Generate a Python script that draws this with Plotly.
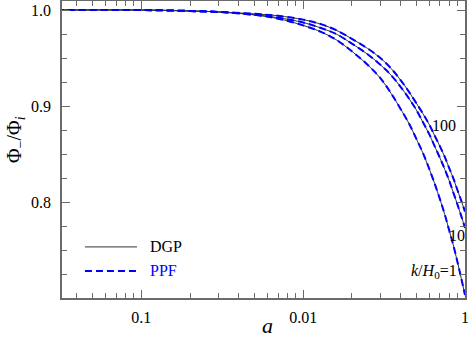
import plotly.graph_objects as go

# scale factor a
a_vals = [0.003, 0.01, 0.02, 0.03, 0.05, 0.07, 0.1, 0.13, 0.16, 0.2, 0.25, 0.3, 0.35, 0.4,
          0.45, 0.5, 0.55, 0.6, 0.65, 0.7, 0.75, 0.8, 0.85, 0.9, 0.95, 1.0]

# Phi_-/Phi_i for DGP (solid)
dgp_k1 = [1.0, 1.0, 0.999, 0.998, 0.995, 0.991, 0.984, 0.977, 0.969, 0.957, 0.943, 0.929, 0.913, 0.897,
          0.882, 0.866, 0.851, 0.835, 0.819, 0.803, 0.787, 0.770, 0.754, 0.737, 0.720, 0.703]
dgp_k10 = [1.0, 1.0, 0.999, 0.998, 0.995, 0.992, 0.987, 0.981, 0.975, 0.965, 0.954, 0.943, 0.932, 0.920,
           0.908, 0.896, 0.883, 0.871, 0.858, 0.846, 0.834, 0.822, 0.809, 0.797, 0.785, 0.773]
dgp_k100 = [1.0, 1.0, 0.999, 0.998, 0.996, 0.994, 0.990, 0.985, 0.979, 0.970, 0.960, 0.950, 0.939, 0.927,
            0.915, 0.903, 0.892, 0.881, 0.869, 0.858, 0.847, 0.835, 0.824, 0.812, 0.801, 0.790]

# PPF (dashed) lies right on top of DGP
ppf_k1 = [1.0, 1.0, 0.999, 0.998, 0.995, 0.991, 0.984, 0.977, 0.969, 0.957, 0.943, 0.929, 0.913, 0.897,
          0.882, 0.866, 0.851, 0.835, 0.819, 0.803, 0.787, 0.770, 0.754, 0.737, 0.720, 0.703]
ppf_k10 = [1.0, 1.0, 0.999, 0.998, 0.995, 0.992, 0.987, 0.981, 0.975, 0.965, 0.954, 0.943, 0.932, 0.920,
           0.908, 0.896, 0.883, 0.871, 0.858, 0.846, 0.834, 0.822, 0.809, 0.797, 0.785, 0.773]
ppf_k100 = [1.0, 1.0, 0.999, 0.998, 0.996, 0.994, 0.990, 0.985, 0.979, 0.970, 0.960, 0.950, 0.939, 0.927,
            0.915, 0.903, 0.892, 0.881, 0.869, 0.858, 0.847, 0.835, 0.824, 0.812, 0.801, 0.790]

x_tickvals = [0.01, 0.1, 1]
x_ticktext = ["0.1", "0.01", "1"]
x_minor = [0.004, 0.005, 0.006, 0.007, 0.008, 0.009,
           0.02, 0.03, 0.04, 0.05, 0.06, 0.07, 0.08, 0.09,
           0.2, 0.3, 0.4, 0.5, 0.6, 0.7, 0.8, 0.9]
y_tickvals = [0.8, 0.9, 1.0]
y_ticktext = ["0.8", "0.9", "1.0"]
y_minor = [0.725, 0.75, 0.775, 0.825, 0.85, 0.875, 0.925, 0.95, 0.975]

FONT = "Liberation Serif"
AXIS = "#6a6a6a"

fig = go.Figure()
for ys in [dgp_k1, dgp_k10, dgp_k100]:
    fig.add_trace(go.Scatter(x=a_vals, y=ys, mode="lines", line_shape="spline",
                             line=dict(color="#333333", width=1), showlegend=False))
for ys in [ppf_k1, ppf_k10, ppf_k100]:
    fig.add_trace(go.Scatter(x=a_vals, y=ys, mode="lines", line_shape="spline",
                             line=dict(color="#0000ff", width=2, dash="7px,4px"), showlegend=False))

# curve labels
fig.add_annotation(x=-0.13, y=0.880, text="100", showarrow=False, font=dict(size=16, color="black"))
fig.add_annotation(x=-0.05, y=0.765, text="10", showarrow=False, font=dict(size=16, color="black"))
fig.add_annotation(x=-0.19, y=0.728, text="<i>k</i>/<i>H</i><sub>0</sub>=1", showarrow=False,
                   font=dict(size=16, color="black"))

# legend drawn by hand, like the original
fig.add_shape(type="line", xref="paper", yref="paper", x0=0.057, x1=0.186, y0=0.172, y1=0.172,
              line=dict(color="#333333", width=1))
fig.add_shape(type="line", xref="paper", yref="paper", x0=0.057, x1=0.186, y0=0.091, y1=0.091,
              line=dict(color="#0000ff", width=2, dash="7px,4px"))
fig.add_annotation(xref="paper", yref="paper", x=0.213, y=0.172, text="DGP", showarrow=False,
                   xanchor="left", yanchor="middle", font=dict(size=16, color="black"))
fig.add_annotation(xref="paper", yref="paper", x=0.213, y=0.091, text="PPF", showarrow=False,
                   xanchor="left", yanchor="middle", font=dict(size=16, color="#0000ff"))

# axis titles
fig.add_annotation(xref="paper", yref="paper", x=0.511, y=-0.094, text="<i>a</i>", showarrow=False,
                   xanchor="center", yanchor="middle", font=dict(size=22, color="black"))
fig.add_annotation(xref="paper", yref="paper", x=-0.114, y=0.532, text="Φ<sub>−</sub>/Φ<sub><i>i</i></sub>",
                   showarrow=False, textangle=-90, xanchor="center", yanchor="middle",
                   font=dict(size=20, color="black"))

fig.update_xaxes(type="log", range=[-2.49, 0], tickmode="array", tickvals=x_tickvals, ticktext=x_ticktext,
                 ticks="inside", ticklen=8, tickcolor=AXIS, showline=True, linecolor=AXIS, linewidth=1.5,
                 mirror="ticks", showgrid=False, zeroline=False, ticklabelstandoff=4, automargin=False,
                 minor=dict(tickmode="array", tickvals=x_minor, ticks="inside", ticklen=5, tickcolor=AXIS, showgrid=False),
                 tickfont=dict(family=FONT, size=16, color="black"))
fig.update_yaxes(range=[0.7, 1.0094], tickmode="array", tickvals=y_tickvals, ticktext=y_ticktext,
                 ticks="inside", ticklen=8, tickcolor=AXIS, showline=True, linecolor=AXIS, linewidth=1.5,
                 mirror="ticks", showgrid=False, zeroline=False, ticklabelstandoff=6, automargin=False,
                 minor=dict(tickmode="array", tickvals=y_minor, ticks="inside", ticklen=5, tickcolor=AXIS, showgrid=False),
                 tickfont=dict(family=FONT, size=16, color="black"))

fig.update_layout(width=471, height=342, margin=dict(l=62, r=6, t=1, b=44),
                  plot_bgcolor="white", paper_bgcolor="white", font=dict(family=FONT),
                  showlegend=False)
fig.write_html("out.html", config={"displayModeBar": False},
               post_script="document.body.style.margin='0';")
